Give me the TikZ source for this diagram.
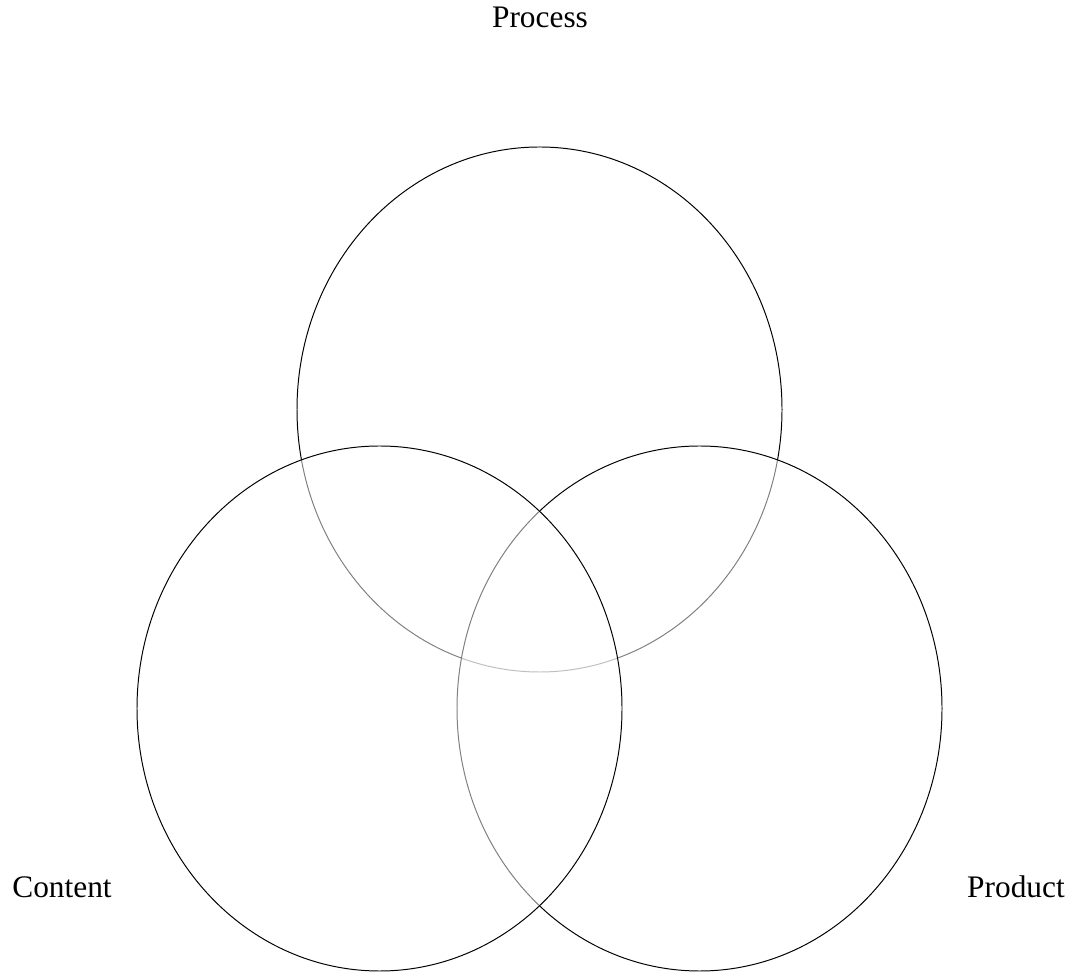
\documentclass[tikz,border=0pt]{standalone}
\usepackage{fontspec}
\setmainfont{Liberation Serif}
\begin{document}
\begin{tikzpicture}[set/.style={draw=black,line width=0.7pt,fill=white,fill opacity=0.5},
lbl/.style={anchor=base,font=\fontsize{22.3}{26}\selectfont}]
\useasboundingbox (0,0) rectangle (26.9,24.3);
\draw[set] (13.4875,14.0625) ellipse (6.0625 and 6.5625);
\draw[set] (17.4875,6.5875) ellipse (6.0625 and 6.5625);
\draw[set] (9.4875,6.5875) ellipse (6.0625 and 6.5625);

\node[lbl] (process) at (13.5,23.6) {Process};
\node[lbl] (content) at (1.55,1.875) {Content};
\node[lbl] (product) at (25.4,1.875) {Product};
\end{tikzpicture}
\end{document}
